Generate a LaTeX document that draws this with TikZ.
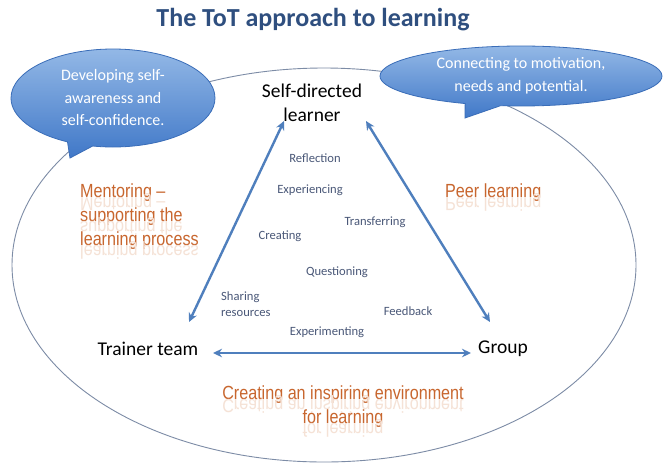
\documentclass[tikz,border=0pt]{standalone}
\usepackage{fontspec}
\usepackage{graphicx}
\setmainfont{Carlito}
\newfontfamily\orfont{Liberation Sans}[FakeStretch=0.85]
\usetikzlibrary{shapes.geometric,shapes.callouts,arrows.meta}
\definecolor{titleblue}{HTML}{2F4F7F}
\definecolor{wordblue}{HTML}{4A5878}
\definecolor{orangetxt}{HTML}{C8662E}
\definecolor{orrefl}{HTML}{F5E2D6}
\definecolor{arrowblue}{HTML}{4F7FBD}
\definecolor{framecol}{HTML}{7D8CA6}
\definecolor{calltop}{HTML}{93B8E6}
\definecolor{callbot}{HTML}{4078C8}
\definecolor{calledge}{HTML}{3A6DB8}
\newcommand{\mirr}[1]{#1\llap{\smash{\textcolor{orrefl}{\scalebox{1}[-1]{#1}}}}}
\tikzset{
  title/.style={font=\fontsize{26}{30}\selectfont\bfseries, text=titleblue},
  mainlabel/.style={font=\fontsize{19.5}{24}\selectfont, text=black, align=center},
  word/.style={font=\fontsize{12.6}{15.5}\selectfont, text=wordblue, inner sep=1pt},
  ortext/.style={font=\orfont\fontsize{19}{24}\selectfont, text=orangetxt, inner sep=0pt},
  bubble/.style={ellipse callout, draw=calledge, line width=0.8pt, top color=calltop, bottom color=callbot,
    text=white, font=\fontsize{16}{22.5}\selectfont, align=center, inner sep=0pt},
  link/.style={draw=arrowblue, line width=2.4pt, {Stealth[length=9pt,width=8.5pt]}-{Stealth[length=9pt,width=8.5pt]}},
  frameell/.style={ellipse, draw=framecol, line width=0.9pt, inner sep=0pt}
}
\begin{document}
\begin{tikzpicture}[x=1pt,y=-1pt]
\useasboundingbox (0,0) rectangle (671,466);
\fill[white] (0,0) rectangle (671,466);

\node[frameell, minimum width=624pt, minimum height=394pt] (frame) at (324,265) {};

\node[title] (ttl) at (313,20) {The ToT approach to learning};

\node[bubble, minimum width=204pt, minimum height=98pt, callout absolute pointer={(70,158)}] (cl) at (113,98)
  {Developing self-\\awareness and\\self-confidence.};
\node[bubble, minimum width=282pt, minimum height=60pt, callout absolute pointer={(465,118)}] (cr) at (521,76)
  {Connecting to motivation,\\needs and potential.};

\node[mainlabel] (sdl) at (312,103) {Self-directed\\learner};
\node[mainlabel] (tt) at (148,349) {Trainer team};
\node[mainlabel] (gr) at (503,349) {Group};

\coordinate (sdlL) at (284,121);
\coordinate (sdlR) at (366,121);
\coordinate (ttN) at (189,322);
\coordinate (ttE) at (213,353);
\coordinate (grN) at (490,322);
\coordinate (grW) at (471,353);
\draw[link] (sdlL) -- (ttN);
\draw[link] (sdlR) -- (grN);
\draw[link] (ttE) -- (grW);

\node[word] (w1) at (315,158) {Reflection};
\node[word] (w2) at (310,190) {Experiencing};
\node[word] (w3) at (375,222) {Transferring};
\node[word] (w4) at (280,236) {Creating};
\node[word] (w5) at (337,272) {Questioning};
\node[word, align=left, anchor=west] (w6) at (220,304) {Sharing\\resources};
\node[word] (w7) at (408,311) {Feedback};
\node[word] (w8) at (327,332) {Experimenting};

\node[ortext, align=left, anchor=west] (mentor) at (80,217) {\mirr{Mentoring –}\\\mirr{supporting the}\\\mirr{learning process}};
\node[ortext, anchor=west] (peer) at (445,193) {\mirr{Peer learning}};
\node[ortext, align=center] (env) at (343,407) {\mirr{Creating an inspiring environment}\\\mirr{for learning}};
\end{tikzpicture}
\end{document}
